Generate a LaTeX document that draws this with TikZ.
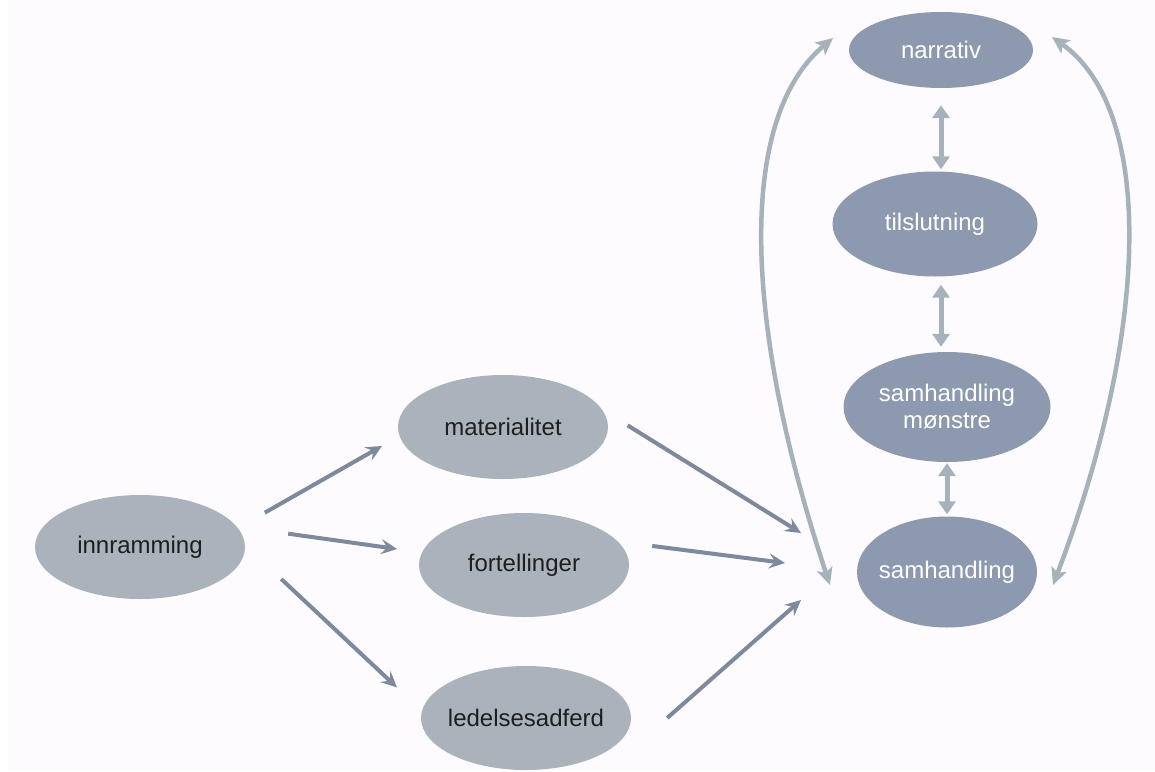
\documentclass[tikz,border=0pt]{standalone}
\usepackage{fontspec}
\setmainfont{Liberation Sans}
\usetikzlibrary{shapes.geometric,arrows.meta,calc}
\definecolor{bg}{HTML}{FDFBFD}
\definecolor{lfill}{HTML}{AAB2BB}
\definecolor{rfill}{HTML}{8D99AE}
\definecolor{larrc}{HTML}{7D899C}
\definecolor{rarrc}{HTML}{A6B2BB}
\definecolor{ltext}{HTML}{1E1E1E}
\begin{document}
\begin{tikzpicture}[x=1pt,y=-1pt,
  lnode/.style={ellipse,fill=lfill,text=ltext,inner ysep=0pt,inner xsep=-12pt,minimum width=210pt,minimum height=104pt,font=\fontsize{24}{27}\selectfont,align=center},
  rnode/.style={ellipse,fill=rfill,text=white,inner ysep=0pt,inner xsep=-12pt,font=\fontsize{24}{27}\selectfont,align=center},
  larr/.style={draw=larrc,line width=4pt,-{Stealth[length=16pt,width=15pt,inset=6pt]}},
  rcurve/.style={draw=rarrc,line width=4.5pt,{Stealth[length=17pt,width=16pt,inset=4pt]}-{Stealth[length=17pt,width=16pt,inset=4pt]}},
  rvert/.style={draw=rarrc,line width=5pt,{Triangle[length=13pt,width=17pt]}-{Triangle[length=13pt,width=17pt]}}
]
\fill[white] (0,0) rectangle (1155,771);
\fill[bg] (8,0) rectangle (1155,771);
\useasboundingbox (0,0) rectangle (1155,771);

\node[lnode] (inn) at (140,547) {innramming};
\node[lnode] (mat) at (503,427) {materialitet};
\node[lnode] (fort) at (524,565) {fortellinger};
\node[lnode] (led) at (526,718) {ledelsesadferd};
\node[rnode,minimum width=184pt,minimum height=76pt] (nar) at (941,50) {narrativ};
\node[rnode,minimum width=205pt,minimum height=105pt] (til) at (935,224) {tilslutning};
\node[rnode,minimum width=207pt,minimum height=110pt] (mon) at (947,407) {samhandling\\mønstre};
\node[rnode,minimum width=180pt,minimum height=111pt] (sam) at (947,572) {samhandling};

\draw[larr,shorten <=31pt,shorten >=20pt] (inn.11) -- (mat.185.5);
\draw[larr,shorten <=52pt,shorten >=25pt] (inn.12.7) -- (fort.173);
\draw[larr,shorten <=49.5pt,shorten >=34pt] (inn.1) -- (led.176.4);

\coordinate (c1) at (801,533);
\coordinate (c2) at (785,563);
\coordinate (c3) at (801,600);
\coordinate (l0) at ($(led.east)+(36,0)$);
\draw[larr,shorten <=30pt] (mat.10) -- (c1);
\draw[larr,shorten <=34.5pt] (fort.14) -- (c2);
\draw[larr] (l0) -- (c3);

\coordinate (lt) at (833,38);
\coordinate (lb) at (830,585);
\coordinate (rt) at (1052,37);
\coordinate (rb) at (1053,585);
\draw[rcurve] (lb) .. controls (745,330) and (735,120) .. (lt);
\draw[rcurve] (rb) .. controls (1150,330) and (1155,110) .. (rt);

\draw[rvert,shorten <=17pt,shorten >=2pt] (nar.south) -- (nar.south |- til.north);
\draw[rvert,shorten <=8pt,shorten >=5pt] (til.south -| nar.south) -- (nar.south |- mon.north);
\draw[rvert,shorten <=1pt,shorten >=2pt] (mon.south) -- (sam.north);
\end{tikzpicture}
\end{document}
